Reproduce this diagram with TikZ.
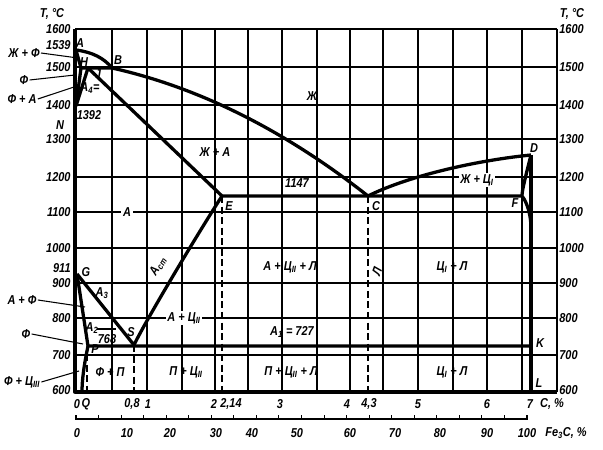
\documentclass[tikz,border=0pt]{standalone}
\usepackage{fontspec}
\setmainfont{Liberation Sans}[FakeStretch=0.85]
\usetikzlibrary{calc}

\tikzset{
  phase/.style={line width=2.8pt, line join=round},
  gridline/.style={line width=1.4pt},
  lbl/.style={font=\fontsize{11}{12}\selectfont\bfseries\itshape, inner sep=1pt},
  cut/.style={lbl, fill=white, inner sep=1.5pt},
  leader/.style={line width=0.9pt},
  drop/.style={line width=1.8pt, dash pattern=on 6pt off 3pt},
}

\begin{document}
\begin{tikzpicture}[x=0.03cm, y=-0.03cm]
    \useasboundingbox (0,0) rectangle (603,450);

    % grid
    \foreach \gx in {112,147,182,215,248,282,317,350,383,418,453,487,522,557}
        \draw[gridline] (\gx,29) -- (\gx,392);
    \foreach \gy in {29,67,105,139,177,212,248,283,318,355}
        \draw[gridline] (75,\gy) -- (557,\gy);

    % temperature scales
    \node[lbl, anchor=south] at (52,21) {T, °C};
    \node[lbl, anchor=south] at (572,21) {T, °C};
    \foreach \t/\gy in {1600/29,1500/67,1400/105,1300/139,1200/177,1100/212,1000/248,900/283,800/318,700/355,600/390} {
        \node[lbl, anchor=east] at (72,\gy) {\t};
        \node[lbl, anchor=west] at (558,\gy) {\t};
    }
    \node[lbl, anchor=east] at (72,45) {1539};
    \node[lbl, anchor=east] at (72,268) {911};

    % special points
    \coordinate (A) at (76,50);
    \coordinate (H) at (81,68);
    \coordinate (J) at (88,68);
    \coordinate (B) at (112,68);
    \coordinate (N) at (76,106);
    \coordinate (E) at (222,196);
    \coordinate (C) at (368,196);
    \coordinate (D) at (531,155);
    \coordinate (F) at (522,196);
    \coordinate (G) at (77,274);
    \coordinate (S) at (134,345);
    \coordinate (P) at (88,346);
    \coordinate (K) at (531,346);
    \coordinate (Q) at (82,392);
    \coordinate (L) at (531,392);

    % phase lines
    \draw[phase] (75,29) -- (75,392) -- (557,392);
    \draw[phase] (A) .. controls (92,52) and (104,58) .. (B)
        .. controls (197,87) and (283,129) .. (C)
        .. controls (410,175) and (480,160) .. (D);
    \draw[phase] (A) -- (H) -- (B);
    \draw[phase] (H) -- (N);
    \draw[phase] (J) -- (N);
    \draw[phase] (J) -- (E) -- (F);
    \draw[phase] (D) -- (L);
    \draw[phase] (D) .. controls (526,175) and (522,190) .. (F)
        .. controls (527,202) and (531,215) .. (531,228);
    \draw[phase] (G) -- (S) .. controls (145,322) and (195,238) .. (E);
    \draw[phase] (G) -- (P) -- (K);
    \draw[phase] (P) .. controls (84,365) and (82,380) .. (Q);
    \draw[leader] (97,329) -- (116,329);

    % dashed drops
    \draw[drop] (S) -- (S |- L);
    \draw[drop] (E) -- (E |- L);
    \draw[drop] (C) -- (C |- L);
    \draw[drop] (87,354) -- (87,392);

    % point labels
    \node[lbl] at (80,43) {A};
    \node[lbl] at (84,62) {H};
    \node[lbl] at (98,74) {J};
    \node[lbl] at (118,60) {B};
    \node[lbl] at (60,125) {N};
    \node[lbl] at (229,206) {E};
    \node[lbl] at (376,206) {C};
    \node[lbl] at (534,148) {D};
    \node[lbl] at (515,203) {F};
    \node[lbl] at (86,272) {G};
    \node[lbl] at (131,332) {S};
    \node[lbl] at (95,349) {P};
    \node[lbl] at (540,343) {K};
    \node[lbl] at (539,383) {L};

    % phase fields
    \node[lbl] at (312,96) {Ж};
    \node[lbl] at (215,152) {Ж + A};
    \node[lbl] at (297,183) {1147};
    \node[cut] at (477,180) {Ж + Ц\textsubscript{I}};
    \node[cut] at (127,212) {A};
    \node[lbl] at (290,267) {A + Ц\textsubscript{II} + Л};
    \node[lbl] at (452,267) {Ц\textsubscript{I} + Л};
    \node[lbl, rotate=70] at (377,271) {Л};
    \node[lbl, inner sep=0pt, rotate=59] at (158,266) {A\textsubscript{cm}};
    \node[cut] at (184,318) {A + Ц\textsubscript{II}};
    \node[lbl] at (292,332) {A\textsubscript{1} = 727};
    \node[lbl] at (110,372) {Ф + П};
    \node[lbl] at (186,372) {П + Ц\textsubscript{II}};
    \node[lbl] at (291,372) {П + Ц\textsubscript{II} + Л};
    \node[lbl] at (452,372) {Ц\textsubscript{I} + Л};
    \node[lbl] at (102,293) {A\textsubscript{3}};
    \node[lbl] at (92,328) {A\textsubscript{2}};
    \node[lbl] at (107,339) {768};
    \node[lbl] at (90,88) {A\textsubscript{4}=};
    \node[lbl] at (89,115) {1392};

    % fields named outside
    \node[lbl] (zf) at (24,53) {Ж + Ф};
    \node[lbl] (fa) at (24,80) {Ф};
    \node[lbl] (fpa) at (22,99) {Ф + A};
    \node[lbl] (af) at (22,300) {A + Ф};
    \node[lbl] (fb) at (26,334) {Ф};
    \node[lbl] (fc) at (22,382) {Ф + Ц\textsubscript{III}};
    \draw[leader] (zf.east) -- (78,58);
    \draw[leader] (fa.east) -- (75,75);
    \draw[leader] (fpa.east) -- (77,86);
    \draw[leader] (af.east) -- (85,307);
    \draw[leader] (fb.east) -- (83,344);
    \draw[leader] (fc.east) -- (79,371);

    % carbon scale
    \foreach \cx/\cl in {77/0,86/Q,132/{0,8},148/1,214/2,231/{2,14},280/3,347/4,369/{4,3},418/5,487/6,530/7}
        \node[lbl] at (\cx,404) {\cl};
    \node[lbl] at (552,404) {C, \%};

    % cementite scale
    \draw[leader] (75,419) -- (528,419);
    \foreach \k in {0,...,20}
        \draw[leader] ({76+\k*22.55},419) -- ++(0,-4);
    \foreach \fx/\fl in {77/0,127/10,170/20,216/30,252/40,297/50,350/60,395/70,440/80,487/90,527/100}
        \node[lbl] at (\fx,433) {\fl};
    \node[lbl] at (566,433) {Fe\textsubscript{3}C, \%};
\end{tikzpicture}
\end{document}
